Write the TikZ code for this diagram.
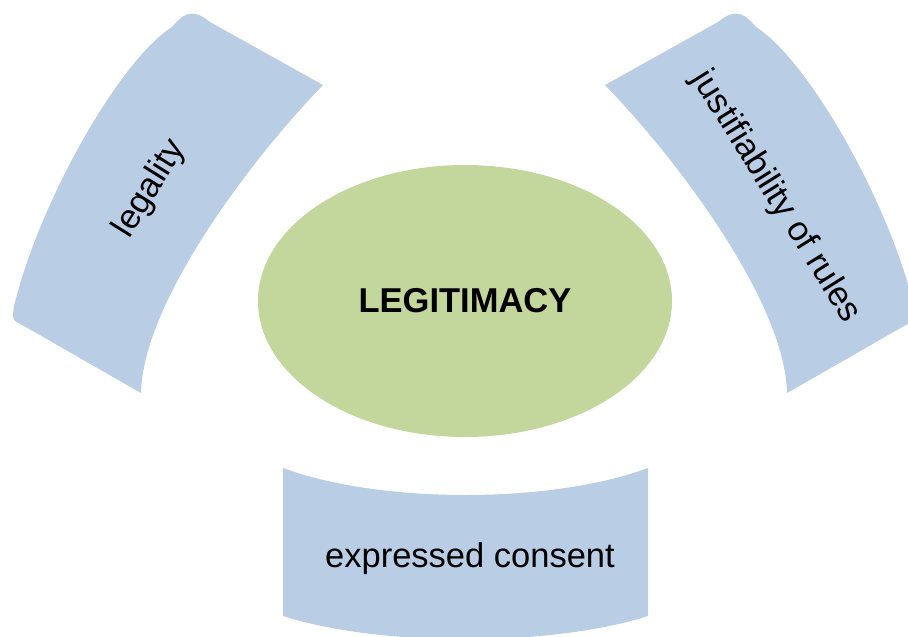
\documentclass[tikz,border=0pt]{standalone}
\usepackage{fontspec}
\setmainfont{Liberation Sans}
\usetikzlibrary{shapes.geometric}
\definecolor{bandblue}{HTML}{B9CDE5}
\definecolor{coregreen}{HTML}{C3D69B}
\tikzset{
  band/.style={fill=bandblue},
  bandtext/.style={font=\fontsize{34.5}{40}\selectfont, inner sep=0pt}
}
\begin{document}
\begin{tikzpicture}[x=1pt,y=-1pt]
  \useasboundingbox (0,0) rectangle (908,637);
  \clip (0,0) rectangle (908,637);
  % left band
  \fill[band] (210,22) -- (323,85) .. controls (255,155) and (143,300) .. (141,393) -- (24,326) .. controls (12,320) .. (14,306) .. controls (40,200) and (120,60) .. (172,27) .. controls (186,10) and (195,10) .. (210,22) -- cycle;
  % right band
  \fill[band] (718,22) -- (605,85) .. controls (673,155) and (785,300) .. (787,393) -- (904,326) .. controls (916,320) .. (914,306) .. controls (888,200) and (808,60) .. (756,27) .. controls (742,10) and (733,10) .. (718,22) -- cycle;
  % bottom band
  \fill[band] (283,468) .. controls (380,504) and (551,504) .. (648,468) -- (648,616) .. controls (551,647) and (380,647) .. (283,616) -- cycle;
  \node[ellipse, fill=coregreen, minimum width=414pt, minimum height=272pt, inner sep=0pt,
        font=\fontsize{34.5}{40}\selectfont\bfseries] (core) at (465,301) {LEGITIMACY};
  \node[bandtext, rotate=58] (legality) at (150,189) {legality};
  \node[bandtext, rotate=-58] (rules) at (776,197) {justifiability of rules};
  \node[bandtext, anchor=base] (consent) at (470,567) {expressed consent};
\end{tikzpicture}
\end{document}
